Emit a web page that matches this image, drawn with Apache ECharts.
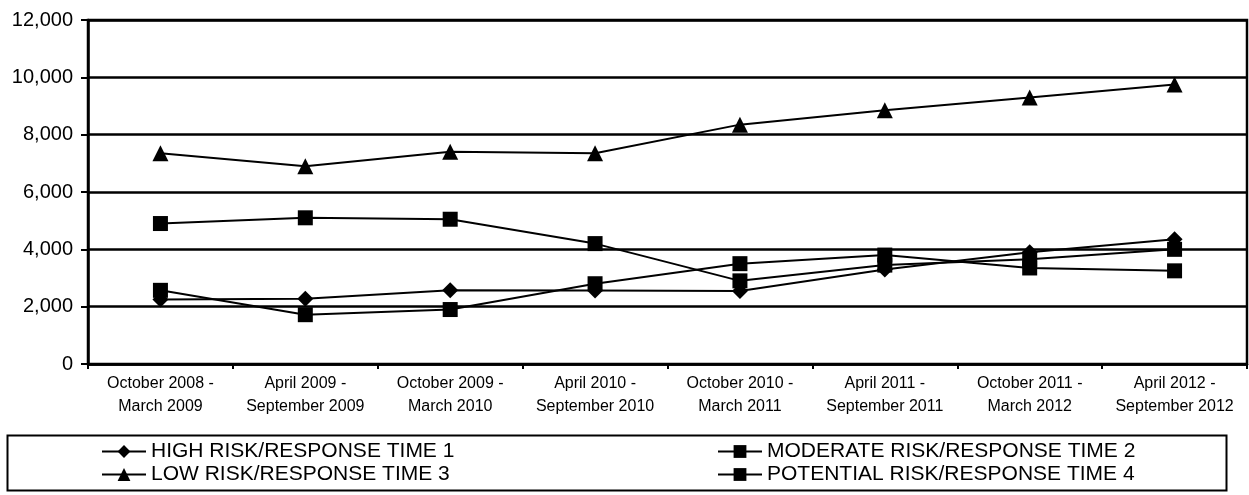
<!DOCTYPE html>
<html>
<head>
<meta charset="utf-8">
<script src="https://cdn.jsdelivr.net/npm/echarts@6/dist/echarts.min.js"></script>
<style>
html,body{margin:0;padding:0;background:#fff;}
#chart{width:1249px;height:495px;}
</style>
</head>
<body>
<div id="chart"></div>
<script>
const categories = [
  "October 2008 -\nMarch 2009",
  "April 2009 -\nSeptember 2009",
  "October 2009 -\nMarch 2010",
  "April 2010 -\nSeptember 2010",
  "October 2010 -\nMarch 2011",
  "April 2011 -\nSeptember 2011",
  "October 2011 -\nMarch 2012",
  "April 2012 -\nSeptember 2012"
];
const seriesNames = [
  "HIGH RISK/RESPONSE TIME 1",
  "MODERATE RISK/RESPONSE TIME 2",
  "LOW RISK/RESPONSE TIME 3",
  "POTENTIAL RISK/RESPONSE TIME 4"
];
const highRisk = [2250, 2280, 2570, 2560, 2550, 3300, 3900, 4350];
const moderateRisk = [4900, 5100, 5050, 4200, 2900, 3450, 3650, 4000];
const lowRisk = [7350, 6900, 7400, 7350, 8350, 8850, 9300, 9750];
const potentialRisk = [2570, 1720, 1900, 2800, 3500, 3800, 3350, 3250];
const yMin = 0, yMax = 12000, yStep = 2000;

const chart = echarts.init(document.getElementById('chart'), null, {renderer: 'canvas'});
const FONT = '"Liberation Sans", Arial, sans-serif';
function mk(name, data, symbol, size) {
  return {
    name: name, type: 'line', data: data,
    symbol: symbol, symbolSize: size,
    lineStyle: {color: '#000', width: 2},
    itemStyle: {color: '#000'},
    emphasis: {disabled: true},
    animation: false
  };
}
const legendText = {color: '#000', fontFamily: FONT, fontSize: 21, lineHeight: 21};
chart.setOption({
  backgroundColor: '#fff',
  animation: false,
  grid: {left: 88, right: 2, top: 20, bottom: 131, show: true, borderColor: '#000', borderWidth: 2.5, backgroundColor: 'transparent'},
  xAxis: {
    type: 'category', data: categories, boundaryGap: true,
    axisLine: {lineStyle: {color: '#000', width: 2.5}},
    axisTick: {show: true, length: 5, lineStyle: {color: '#000', width: 2}},
    axisLabel: {color: '#000', fontFamily: FONT, fontSize: 16, lineHeight: 23, margin: 8, interval: 0}
  },
  yAxis: {
    type: 'value', min: yMin, max: yMax, interval: yStep,
    axisLine: {show: true, lineStyle: {color: '#000', width: 2.5}},
    axisTick: {show: true, length: 7, lineStyle: {color: '#000', width: 2}},
    splitLine: {show: true, lineStyle: {color: '#000', width: 2.5}},
    axisLabel: {color: '#000', fontFamily: FONT, fontSize: 20, margin: 15,
      formatter: v => v.toLocaleString('en-US')}
  },
  legend: [
    {data: [seriesNames[0], seriesNames[2]], orient: 'vertical', left: 96, top: 436,
     itemWidth: 44, itemHeight: 16, itemGap: 2, textStyle: legendText, selectedMode: false},
    {data: [seriesNames[1], seriesNames[3]], orient: 'vertical', left: 712, top: 436,
     itemWidth: 44, itemHeight: 16, itemGap: 2, textStyle: legendText, selectedMode: false}
  ],
  graphic: [{type: 'rect', left: 5, top: 433, shape: {width: 1219, height: 55},
    style: {fill: 'none', stroke: '#000', lineWidth: 2}, silent: true}],
  series: [
    mk(seriesNames[0], highRisk, 'diamond', 16),
    mk(seriesNames[1], moderateRisk, 'rect', 15),
    mk(seriesNames[2], lowRisk, 'triangle', 16),
    mk(seriesNames[3], potentialRisk, 'rect', 15)
  ]
});
</script>
</body>
</html>
